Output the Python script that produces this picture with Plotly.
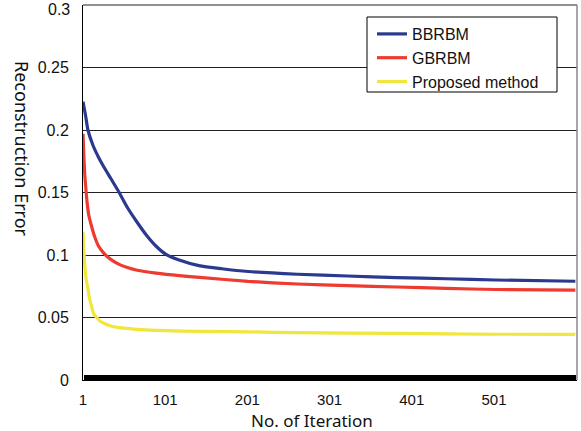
import plotly.graph_objects as go

# ---- data ----
bb_iter = [1, 4, 7, 13, 20, 25, 35, 45, 55, 66, 78, 90, 102, 118, 142, 170, 202, 262, 323, 383, 443, 503, 600]
bb_err = [0.2227, 0.212, 0.200, 0.188, 0.178, 0.172, 0.161, 0.150, 0.138, 0.127, 0.116, 0.107, 0.1005,
          0.096, 0.0915, 0.089, 0.0868, 0.0846, 0.0832, 0.0819, 0.0810, 0.0800, 0.0790]

gb_iter = [1, 2, 3, 4, 6, 8, 11, 15, 20, 25, 30, 37, 45, 55, 67, 90, 118, 143, 202, 262, 323, 383, 443, 503, 600]
gb_err = [0.197, 0.180, 0.166, 0.157, 0.142, 0.132, 0.124, 0.115, 0.107, 0.1025, 0.099, 0.0955, 0.0925,
          0.0900, 0.0878, 0.0855, 0.0835, 0.0821, 0.0789, 0.0768, 0.0755, 0.0744, 0.0733, 0.0724, 0.0719]

pm_iter = [1, 2, 3, 4, 5, 7, 9, 11, 14, 17, 21, 27, 35, 43, 54, 67, 100, 143, 202, 262, 383, 503, 600]
pm_err = [0.1187, 0.104, 0.094, 0.085, 0.080, 0.073, 0.065, 0.060, 0.053, 0.0505, 0.0475, 0.0452, 0.0432,
          0.0421, 0.0413, 0.0405, 0.0395, 0.0389, 0.0385, 0.0379, 0.0373, 0.0366, 0.0365]

series_names = ["BBRBM", "GBRBM", "Proposed method"]
series_colors = ["#2B3A8F", "#EE3A2F", "#F0E63C"]

x_tickvals = [1, 101, 201, 301, 401, 501]
y_tickvals = [0, 0.05, 0.1, 0.15, 0.2, 0.25]
y_ticktext = ["0", "0.05", "0.1", "0.15", "0.2", "0.25"]
y_top_label = "0.3"

fig = go.Figure()
for name, xs, ys, col in zip(series_names, [bb_iter, gb_iter, pm_iter], [bb_err, gb_err, pm_err], series_colors):
    fig.add_trace(go.Scatter(x=xs, y=ys, mode="lines", name=name, legendgroup=name,
                             line=dict(color=col, width=3.2, shape="spline", smoothing=0.6)))

label_font = dict(family="Liberation Sans, Arial, sans-serif", size=16, color="#111")
tick_font = dict(family="Liberation Sans, Arial, sans-serif", size=15, color="#111")

fig.update_layout(
    width=581, height=431,
    margin=dict(l=83, r=4, t=5, b=51, autoexpand=False),
    paper_bgcolor="white", plot_bgcolor="white",
    showlegend=True,
    legend=dict(x=(372 - 83) / 494, y=0.968, xanchor="left", yanchor="top",
                bgcolor="rgba(0,0,0,0)", borderwidth=0,
                font=label_font, itemwidth=30, tracegroupgap=0),
    xaxis=dict(range=[1, 602], tickmode="array", tickvals=x_tickvals,
               ticks="inside", ticklen=5, tickcolor="black", tickwidth=1,
               minor=dict(dtick=1, tick0=1, ticks="inside", ticklen=5, tickcolor="black", tickwidth=0.7),
               showline=True, linecolor="black", linewidth=1,
               showgrid=False, zeroline=False, tickfont=tick_font,
               ticklabelstandoff=6, automargin=False),
    yaxis=dict(range=[0, 0.3], tickmode="array", tickvals=y_tickvals, ticktext=y_ticktext,
               ticks="", showline=True, linecolor="black", linewidth=1,
               showgrid=True, gridcolor="#222", gridwidth=1, zeroline=False,
               tickfont=label_font, ticklabelstandoff=10, automargin=False),
    shapes=[
        dict(type="line", xref="paper", yref="paper", x0=0, x1=1, y0=1, y1=1,
             line=dict(color="#222", width=1), layer="below"),
        dict(type="rect", xref="paper", yref="paper", x0=(367 - 83) / 494, x1=(557 - 83) / 494,
             y0=(380 - 92) / 375, y1=(380 - 17) / 375, line=dict(color="black", width=1),
             fillcolor="white", layer="above"),
        dict(type="line", xref="paper", yref="paper", x0=1, x1=1, y0=0, y1=1,
             line=dict(color="#888", width=1.5), layer="above"),
    ],
    annotations=[
        dict(text=y_top_label, xref="paper", yref="paper", x=(70.5 - 83) / 494, y=(380 - 0) / 375,
             xanchor="right", yanchor="top", showarrow=False, borderpad=0, font=label_font),
        dict(text="No. of Iteration", xref="paper", yref="paper", x=(312 - 83) / 494, y=(380 - 420) / 375,
             xanchor="center", yanchor="middle", showarrow=False,
             font=dict(family="Noto Sans, Open Sans, sans-serif", size=17, color="#111")),
        dict(text="Reconstruction Error", xref="paper", yref="paper", x=(22 - 83) / 494, y=(380 - 59) / 375,
             xanchor="center", yanchor="top", textangle=90, showarrow=False,
             font=dict(family="Noto Sans, Open Sans, sans-serif", size=18, color="#111")),
    ],
)

fig.write_html("out.html")
